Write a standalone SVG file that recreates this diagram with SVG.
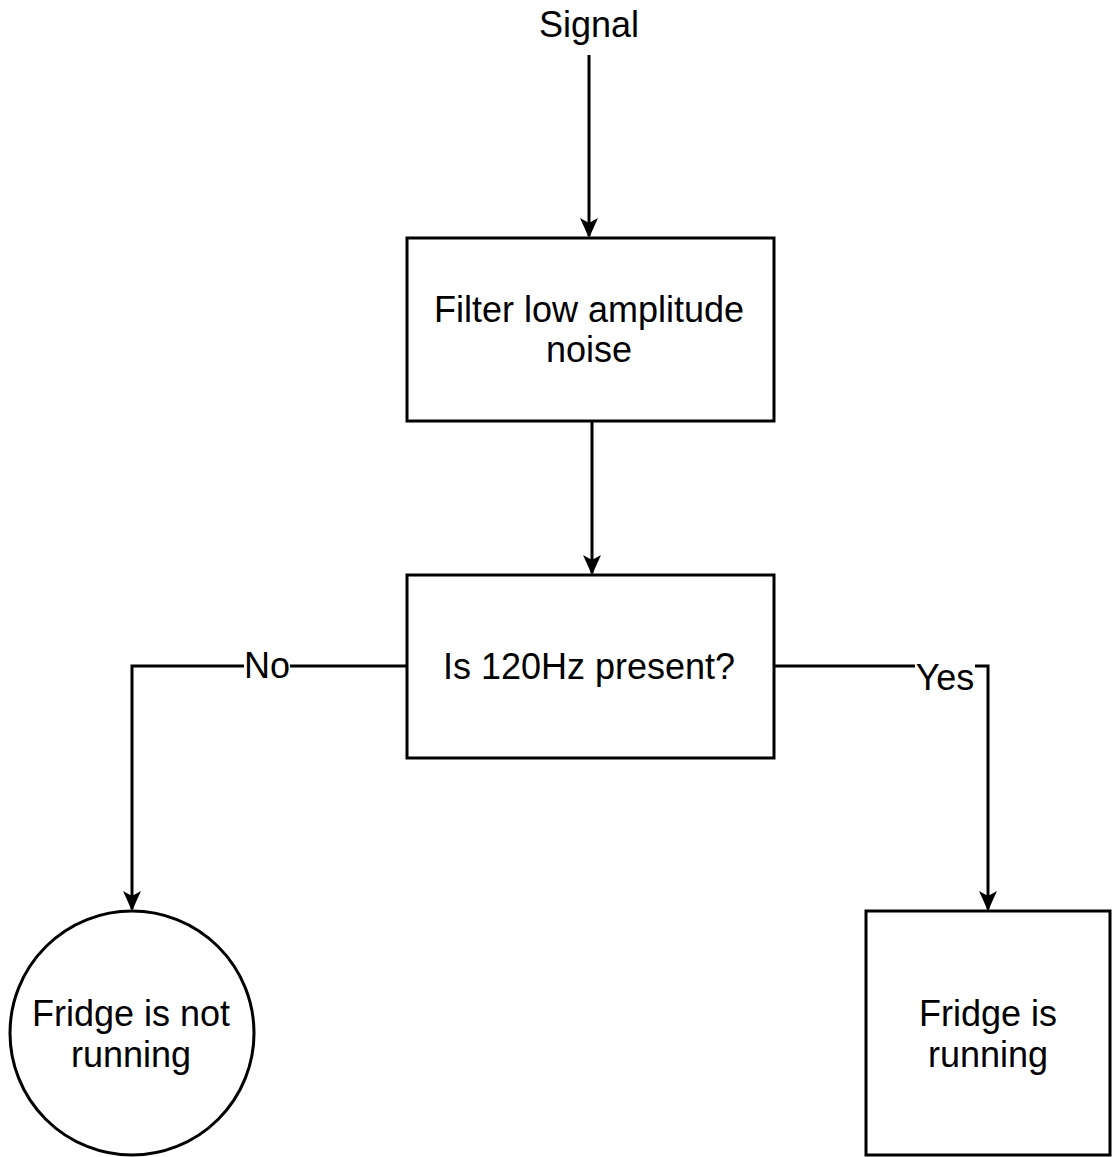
<svg xmlns="http://www.w3.org/2000/svg" width="1112" height="1157" viewBox="0 0 1112 1157">
<style>
.box{fill:#fff;stroke:#000;stroke-width:3}
.lbl{font-family:"Liberation Sans",Arial,sans-serif;font-size:36px;fill:#000;text-anchor:middle}
.edge{fill:none;stroke:#000;stroke-width:3}
</style>
<defs>
<marker id="ah" viewBox="0 0 20 20" refX="18" refY="10" markerWidth="20" markerHeight="20" markerUnits="userSpaceOnUse" orient="auto">
<path d="M0,1 L20,10 L0,19 L5,10 Z" fill="#000"/>
</marker>
</defs>
<rect width="1112" height="1157" fill="#fff"/>
<g id="connectors">
<line class="edge" x1="589" y1="55" x2="589" y2="236" stroke="#333" marker-end="url(#ah)"/>
<line class="edge" x1="592" y1="421" x2="592" y2="573" marker-end="url(#ah)"/>
<path class="edge" d="M407,666 H132 V909" marker-end="url(#ah)"/>
<path class="edge" d="M774,666 H988 V909" marker-end="url(#ah)"/>
<rect x="244" y="645" width="46" height="40" fill="#fff"/>
<text class="lbl" x="267" y="678">No</text>
<rect x="915" y="660" width="60" height="36" fill="#fff"/>
<text class="lbl" x="945" y="690">Yes</text>
</g>
<g id="signal">
<text class="lbl" x="589" y="37">Signal</text>
</g>
<g id="filter">
<rect class="box" x="407" y="238" width="367" height="183"/>
<text class="lbl" x="589" y="322">Filter low amplitude</text>
<text class="lbl" x="589" y="362">noise</text>
</g>
<g id="decision">
<rect class="box" x="407" y="575" width="367" height="183"/>
<text class="lbl" x="589" y="679">Is 120Hz present?</text>
</g>
<g id="not-running">
<circle class="box" cx="132" cy="1033" r="122" stroke-width="2.5"/>
<text class="lbl" x="131" y="1026">Fridge is not</text>
<text class="lbl" x="131" y="1067">running</text>
</g>
<g id="running">
<rect class="box" x="866" y="911" width="244" height="244"/>
<text class="lbl" x="988" y="1026">Fridge is</text>
<text class="lbl" x="988" y="1067">running</text>
</g>
</svg>
